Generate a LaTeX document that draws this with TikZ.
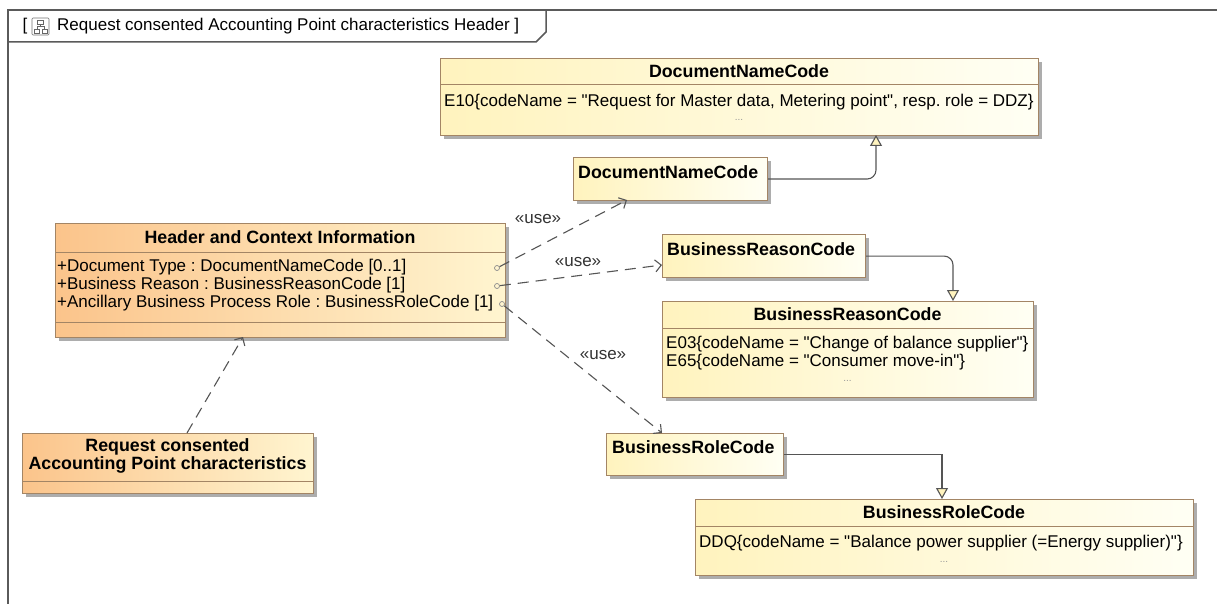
\documentclass[tikz,border=0pt]{standalone}
\usepackage{fontspec}
\setmainfont{Liberation Sans}[Ligatures=TeXOff]
\usetikzlibrary{arrows.meta,shadows,calc}
\definecolor{bordercol}{HTML}{A38565}
\definecolor{ylL}{HTML}{FFF3BE}
\definecolor{ylR}{HTML}{FFFFF4}
\definecolor{orL}{HTML}{FBC48B}
\definecolor{orR}{HTML}{FFF5D0}
\definecolor{linecol}{HTML}{555555}
\definecolor{framecol}{HTML}{5A5A5A}
\newcommand{\regfont}{\fontsize{17}{19}\selectfont}
\newcommand{\ttlfont}{\fontsize{17.8}{18}\selectfont\bfseries}
\newcommand{\dq}{\symbol{34}}
\frenchspacing
\tikzset{
  box/.style={draw=bordercol, line width=1.1pt, anchor=north west, inner sep=0pt,
    drop shadow={shadow xshift=3.5pt, shadow yshift=-3.5pt, fill=black!32, opacity=1}},
  ybox/.style={box, left color=ylL, right color=ylR},
  obox/.style={box, left color=orL, right color=orR},
  sepline/.style={draw=bordercol, line width=1pt},
  ttl/.style={font=\ttlfont, inner sep=0pt},
  txt/.style={font=\regfont, inner sep=0pt, anchor=west},
  dots/.style={inner sep=0pt, text=black!40, font=\fontsize{10}{11}\selectfont},
  dep/.style={draw=linecol, line width=1.1pt, dash pattern=on 11pt off 7pt,
    -{Straight Barb[length=6pt, width=12pt, line width=1.1pt]}},
  gen/.style={draw=linecol, line width=1.1pt,
    -{Triangle[open, length=11pt, width=12pt, line width=1.1pt, fill=ylL]}},
  uselbl/.style={font=\regfont, inner sep=0pt, text=black!80},
  framed/.style={draw=framecol, line width=1.5pt},
  endmark/.style={circle, draw=black!45, line width=0.7pt, inner sep=0pt, minimum size=5pt},
}
\begin{document}
\begin{tikzpicture}[x=1pt, y=-1pt, font=\regfont]
\useasboundingbox (0,0) rectangle (1217,604);
\fill[white] (0,0) rectangle (1217,604);
% frame
\draw[framed] (8,604) -- (8,10) -- (1217,10);
\draw[framed] (8,42) -- (536,42) -- (546,32) -- (546,10);
\node[inner sep=0pt, font=\regfont] (lbr) at (25,26) {[};
\draw[black!55, line width=0.6pt, fill=white, rounded corners=1pt] (32,18) rectangle (49,35);
\draw[black!60, line width=0.6pt] (37.5,20.5) rectangle (43.5,24.5) (34.5,29) rectangle (39.5,33) (42,29) rectangle (47,33);
\draw[black!60, line width=0.6pt] (40.5,24.5) -- (40.5,26.8) (37,26.8) -- (44.5,26.8) (37,26.8) -- (37,29) (44.5,26.8) -- (44.5,29);
\node[txt] (tabt) at (57,26) {Request consented Accounting Point characteristics Header ]};

% DocumentNameCode enumeration
\node[ybox, minimum width=598pt, minimum height=77pt] (dncE) at (440,58) {};
\draw[sepline] (440,85) -- (1038,85);
\node[ttl] (dncEt) at (739,71.5) {DocumentNameCode};
\node[txt] (dncE1) at (444,102) {E10\{codeName = \dq Request for Master data, Metering point\dq, resp. role = DDZ\}};
\node[dots] (dncEd) at (739,120) {...};

% DocumentNameCode small
\node[ybox, minimum width=194pt, minimum height=43pt] (dncS) at (573,157) {};
\node[ttl, anchor=west] (dncSt) at (578,172) {DocumentNameCode};

% Header and Context Information
\node[obox, minimum width=450pt, minimum height=114pt] (hdr) at (55,223) {};
\draw[sepline] (55,252) -- (505,252);
\draw[sepline] (55,322) -- (505,322);
\node[ttl] (hdrt) at (280,237.5) {Header and Context Information};
\node[txt] (hdr1) at (57,267) {+Document Type : DocumentNameCode [0..1]};
\node[txt] (hdr2) at (57,285) {+Business Reason : BusinessReasonCode [1]};
\node[txt] (hdr3) at (57,303) {+Ancillary Business Process Role : BusinessRoleCode [1]};
\node[endmark] (m1) at (497,268) {};
\node[endmark] (m2) at (497,286) {};
\node[endmark] (m3) at (502,304) {};

% Request box
\node[obox, minimum width=291pt, minimum height=60pt] (req) at (22,433) {};
\draw[sepline] (22,481) -- (313,481);
\node[ttl, align=center] (reqt) at (167.5,456) {Request consented\\Accounting Point characteristics};

% BusinessReasonCode small
\node[ybox, minimum width=203pt, minimum height=43pt] (brcS) at (662,234) {};
\node[ttl, anchor=west] (brcSt) at (667,249) {BusinessReasonCode};

% BusinessReasonCode enumeration
\node[ybox, minimum width=371pt, minimum height=96pt] (brcE) at (662,301) {};
\draw[sepline] (662,328) -- (1033,328);
\node[ttl] (brcEt) at (847.5,314.5) {BusinessReasonCode};
\node[txt] (brcE1) at (666,344) {E03\{codeName = \dq Change of balance supplier\dq\}};
\node[txt] (brcE2) at (666,362) {E65\{codeName = \dq Consumer move-in\dq\}};
\node[dots] (brcEd) at (847.5,381) {...};

% BusinessRoleCode small
\node[ybox, minimum width=177pt, minimum height=42pt] (brlS) at (606,433) {};
\node[ttl, anchor=west] (brlSt) at (612,447) {BusinessRoleCode};

% BusinessRoleCode enumeration
\node[ybox, minimum width=498pt, minimum height=76pt] (brlE) at (695,499) {};
\draw[sepline] (695,526) -- (1193,526);
\node[ttl] (brlEt) at (944,512.5) {BusinessRoleCode};
\node[txt] (brlE1) at (699,543) {DDQ\{codeName = \dq Balance power supplier (=Energy supplier)\dq\}};
\node[dots] (brlEd) at (944,562) {...};

% connector end points
\coordinate (g1) at (876,135);
\coordinate (g2) at (953,301);
\coordinate (g3) at (942,499);
\coordinate (t1) at (627,200);
\coordinate (t2) at (662,265);
\coordinate (t3) at (662,433);
\coordinate (rq) at (187,433);
\coordinate (hb) at (243,337);

% generalizations
\draw[gen, rounded corners=9pt] (dncS.east) -| (g1);
\draw[gen, rounded corners=9pt] (brcS.east) -| (g2);
\draw[gen] (brlS.east) -| (g3);

% dependencies
\draw[dep] (m1) -- (t1);
\draw[dep] (m2) -- (t2);
\draw[dep] (m3) -- (t3);
\draw[dep] (rq) -- (hb);
\node[uselbl] (u1) at (538,219) {«use»};
\node[uselbl] (u2) at (578,262) {«use»};
\node[uselbl] (u3) at (603,355) {«use»};
\end{tikzpicture}
\end{document}
